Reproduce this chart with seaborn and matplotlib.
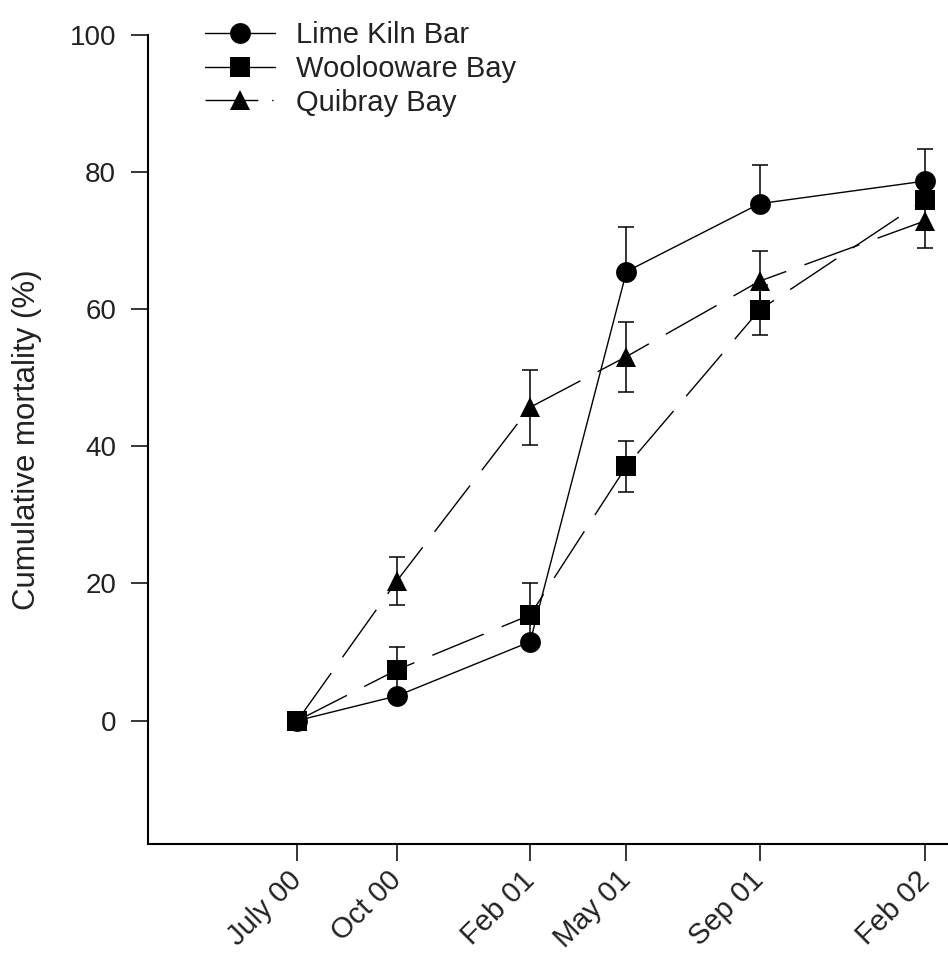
import numpy as np
import pandas as pd
import matplotlib
matplotlib.use("Agg")
import matplotlib.pyplot as plt
from matplotlib.lines import Line2D
import seaborn as sns

# sampling dates and their tick labels
dates = ["2000-07-01", "2000-10-01", "2001-02-01", "2001-05-01", "2001-09-01", "2002-02-01"]
tick_labels = ["July 00", "Oct 00", "Feb 01", "May 01", "Sep 01", "Feb 02"]
sites = ["Lime Kiln Bar", "Woolooware Bay", "Quibray Bay"]

# cumulative mortality (%) per site
lime = [0, 3.6, 11.5, 65.5, 75.4, 78.7]
wool = [0, 7.4, 15.4, 37.1, 59.9, 76.0]
quib = [0, 20.4, 45.7, 53.1, 64.1, 72.9]

# error bars (lower, upper)
lime_lo = [0, 0, 0, 0, 0, 0]
lime_hi = [0, 0, 0, 6.5, 5.7, 4.6]
wool_err = [0, 3.4, 4.7, 3.7, 3.6, 0]
quib_err = [0, 3.5, 5.5, 5.1, 4.4, 4.0]

x = pd.to_datetime(dates)
df = pd.DataFrame({
    "date": np.tile(x, 3),
    "mortality": lime + wool + quib,
    "site": np.repeat(sites, len(dates)),
})

sns.set_style("ticks")
plt.rcParams["font.family"] = ["Liberation Sans", "DejaVu Sans"]

fig = plt.figure(figsize=(9.48, 9.59), dpi=100)
ax = fig.add_axes([148 / 948, 115 / 959, 800 / 948, 809 / 959])

# error bars first so markers sit on top
ax.errorbar(x, lime, yerr=[lime_lo, lime_hi], fmt="none", ecolor="black",
            elinewidth=1.1, capsize=5.5, capthick=1.1, zorder=2)
ax.errorbar(x, wool, yerr=wool_err, fmt="none", ecolor="black",
            elinewidth=1.1, capsize=5.5, capthick=1.1, zorder=2)
ax.errorbar(x, quib, yerr=quib_err, fmt="none", ecolor="black",
            elinewidth=1.1, capsize=5.5, capthick=1.1, zorder=2)

sns.lineplot(data=df, x="date", y="mortality", style="site", style_order=sites,
             markers={"Lime Kiln Bar": "o", "Woolooware Bay": "s", "Quibray Bay": "^"},
             dashes={"Lime Kiln Bar": "", "Woolooware Bay": (40, 14), "Quibray Bay": (42, 14)},
             color="black", linewidth=1.0, markersize=15, markeredgecolor="black",
             markeredgewidth=0, legend=False, ax=ax, zorder=3)

ax.set_ylim(-18, 100)
ax.set_xlim(pd.Timestamp("2000-02-14"), pd.Timestamp("2002-02-22"))
ax.set_yticks([0, 20, 40, 60, 80, 100])
ax.set_xticks(x)
ax.set_xticklabels(tick_labels, rotation=45, ha="right", va="center", rotation_mode="anchor")
ax.tick_params(axis="both", length=12, width=1.1, color="black", labelcolor="#222222")
ax.tick_params(axis="y", pad=11, labelsize=20)
ax.tick_params(axis="x", pad=11, labelsize=21)

sns.despine(ax=ax)
for s in ["left", "bottom"]:
    ax.spines[s].set_linewidth(1.5)
    ax.spines[s].set_color("black")

ax.set_xlabel("")
ax.set_ylabel("Cumulative mortality (%)", fontsize=22.5, color="#222222")
ax.yaxis.set_label_coords(-0.133, 0.5)

handles = [
    Line2D([], [], color="black", lw=1.0, marker="o", ms=15, mew=0),
    Line2D([], [], color="black", lw=1.0, marker="s", ms=15, mew=0),
    Line2D([], [], color="black", lw=1.0, marker="^", ms=15, mew=0,
           linestyle=(0, (38, 10, 1, 60))),
]
fig.legend(handles, sites, loc="upper left", bbox_to_anchor=(205 / 948, 1 - 21 / 959),
           bbox_transform=fig.transFigure, frameon=False, fontsize=21,
           handlelength=2.4, handletextpad=0.72, labelspacing=0.2,
           borderpad=0, borderaxespad=0, labelcolor="#222222")

fig.savefig("out.png", dpi=100)
